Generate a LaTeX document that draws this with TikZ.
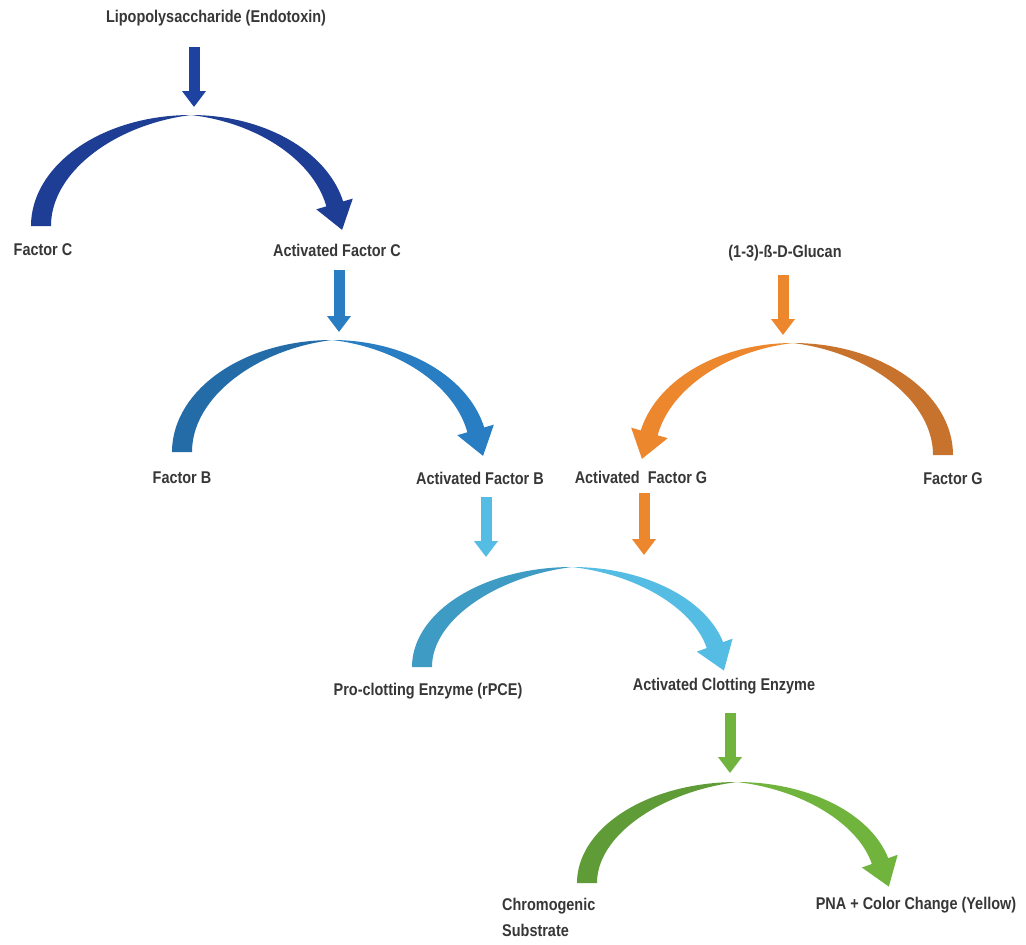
\documentclass[tikz,border=0pt]{standalone}
\usepackage{fontspec}
\setmainfont{Liberation Sans}[FakeStretch=0.85]
\usetikzlibrary{arrows.meta}
\definecolor{txt}{RGB}{55,55,55}
\definecolor{cA}{RGB}{30,62,150}
\definecolor{cAr}{RGB}{30,66,160}
\definecolor{cB}{RGB}{35,108,168}
\definecolor{cBr}{RGB}{40,125,195}
\definecolor{cC}{RGB}{62,155,195}
\definecolor{cCr}{RGB}{85,188,228}
\definecolor{cO}{RGB}{200,115,45}
\definecolor{cOr}{RGB}{236,135,45}
\definecolor{cG}{RGB}{95,155,55}
\definecolor{cGr}{RGB}{112,180,62}
\tikzset{
  lbl/.style={text=txt, font={\fontsize{17}{26}\selectfont\bfseries}, inner sep=0pt},
  downarrow/.style={line width=11pt, -{Triangle[width=23pt,length=16pt]}},
}
% #1 cx, #2 base y, #3 height, #4 tail colour, #5 arrow colour, #6 direction (1 or -1)
\newcommand\swoosh[6]{%
  \begin{scope}[shift={(#1,#2)}, xscale=#6]
    \pgfmathsetmacro\swry{#3}
    \pgfmathsetmacro\swfe{asin(24/\swry)}
    \pgfmathsetmacro\swfs{\swfe-3}
    \pgfmathsetmacro\swPx{147*cos(\swfe)}
    \pgfmathsetmacro\swPy{-(\swry-9)*sin(\swfe)}
    \pgfmathsetmacro\swN{sqrt((147*sin(\swfe))^2+(\swry*cos(\swfe))^2)}
    \pgfmathsetmacro\swdx{147*sin(\swfe)/\swN}
    \pgfmathsetmacro\swdy{\swry*cos(\swfe)/\swN}
    \fill[#4] plot[domain=180:90, samples=60] ({160*cos(\x)}, {-\swry*sin(\x)})
      -- plot[domain=90:180, samples=60]
         ({(160-20*abs(cos(\x)))*cos(\x)}, {-(\swry-20*abs(cos(\x)))*sin(\x)}) -- cycle;
    \fill[#5] plot[domain=90:\swfs, samples=60] ({156*cos(\x)}, {-\swry*sin(\x)})
      -- plot[domain=\swfs:90, samples=60]
         ({(156-18*abs(cos(\x)))*cos(\x)}, {-(\swry-18*abs(cos(\x)))*sin(\x)}) -- cycle;
    \fill[#5] ({\swPx+19*\swdy}, {\swPy-19*\swdx})
      -- ({\swPx+27*\swdx}, {\swPy+27*\swdy})
      -- ({\swPx-19*\swdy}, {\swPy+19*\swdx}) -- cycle;
  \end{scope}}
\begin{document}
\begin{tikzpicture}[x=1pt, y=-1pt]
\useasboundingbox (0,0) rectangle (1026,945);
\fill[white] (0,0) rectangle (1026,945);

% labels
\node[lbl] (lps)  at (216,18)  {Lipopolysaccharide (Endotoxin)};
\node[lbl] (fc)   at (43,250)  {Factor C};
\node[lbl] (afc)  at (337,250) {Activated Factor C};
\node[lbl] (fb)   at (182,478) {Factor B};
\node[lbl] (afb)  at (480,478) {Activated Factor B};
\node[lbl] (glu)  at (785,253) {(1-3)-ß-D-Glucan};
\node[lbl] (afg)  at (641,477) {Activated\ \ Factor G};
\node[lbl] (fg)   at (953,479) {Factor G};
\node[lbl] (pce)  at (428,691) {Pro-clotting Enzyme (rPCE)};
\node[lbl] (ace)  at (724,686) {Activated Clotting Enzyme};
\node[lbl, align=left, anchor=north west] (chs) at (502,898) {Chromogenic\\Substrate};
\node[lbl] (pna)  at (916,905) {PNA + Color Change (Yellow)};

% swooshes
\swoosh{191}{226}{111}{cA}{cA}{1}
\swoosh{332}{452}{112}{cB}{cBr}{1}
\swoosh{572}{667}{100}{cC}{cCr}{1}
\swoosh{793}{455}{112}{cO}{cOr}{-1}
\swoosh{737}{883}{101}{cG}{cGr}{1}

% down arrows
\coordinate (d1s) at (194,47);  \coordinate (d1e) at (194,107);
\coordinate (d2s) at (339,270); \coordinate (d2e) at (339,332);
\coordinate (d3s) at (783,275); \coordinate (d3e) at (783,335);
\coordinate (d4s) at (486,497); \coordinate (d4e) at (486,557);
\coordinate (d5s) at (644,493); \coordinate (d5e) at (644,555);
\coordinate (d6s) at (730,713); \coordinate (d6e) at (730,773);
\draw[downarrow, cAr] (d1s) -- (d1e);
\draw[downarrow, cBr] (d2s) -- (d2e);
\draw[downarrow, cOr] (d3s) -- (d3e);
\draw[downarrow, cCr] (d4s) -- (d4e);
\draw[downarrow, cOr] (d5s) -- (d5e);
\draw[downarrow, cGr] (d6s) -- (d6e);
\end{tikzpicture}
\end{document}
